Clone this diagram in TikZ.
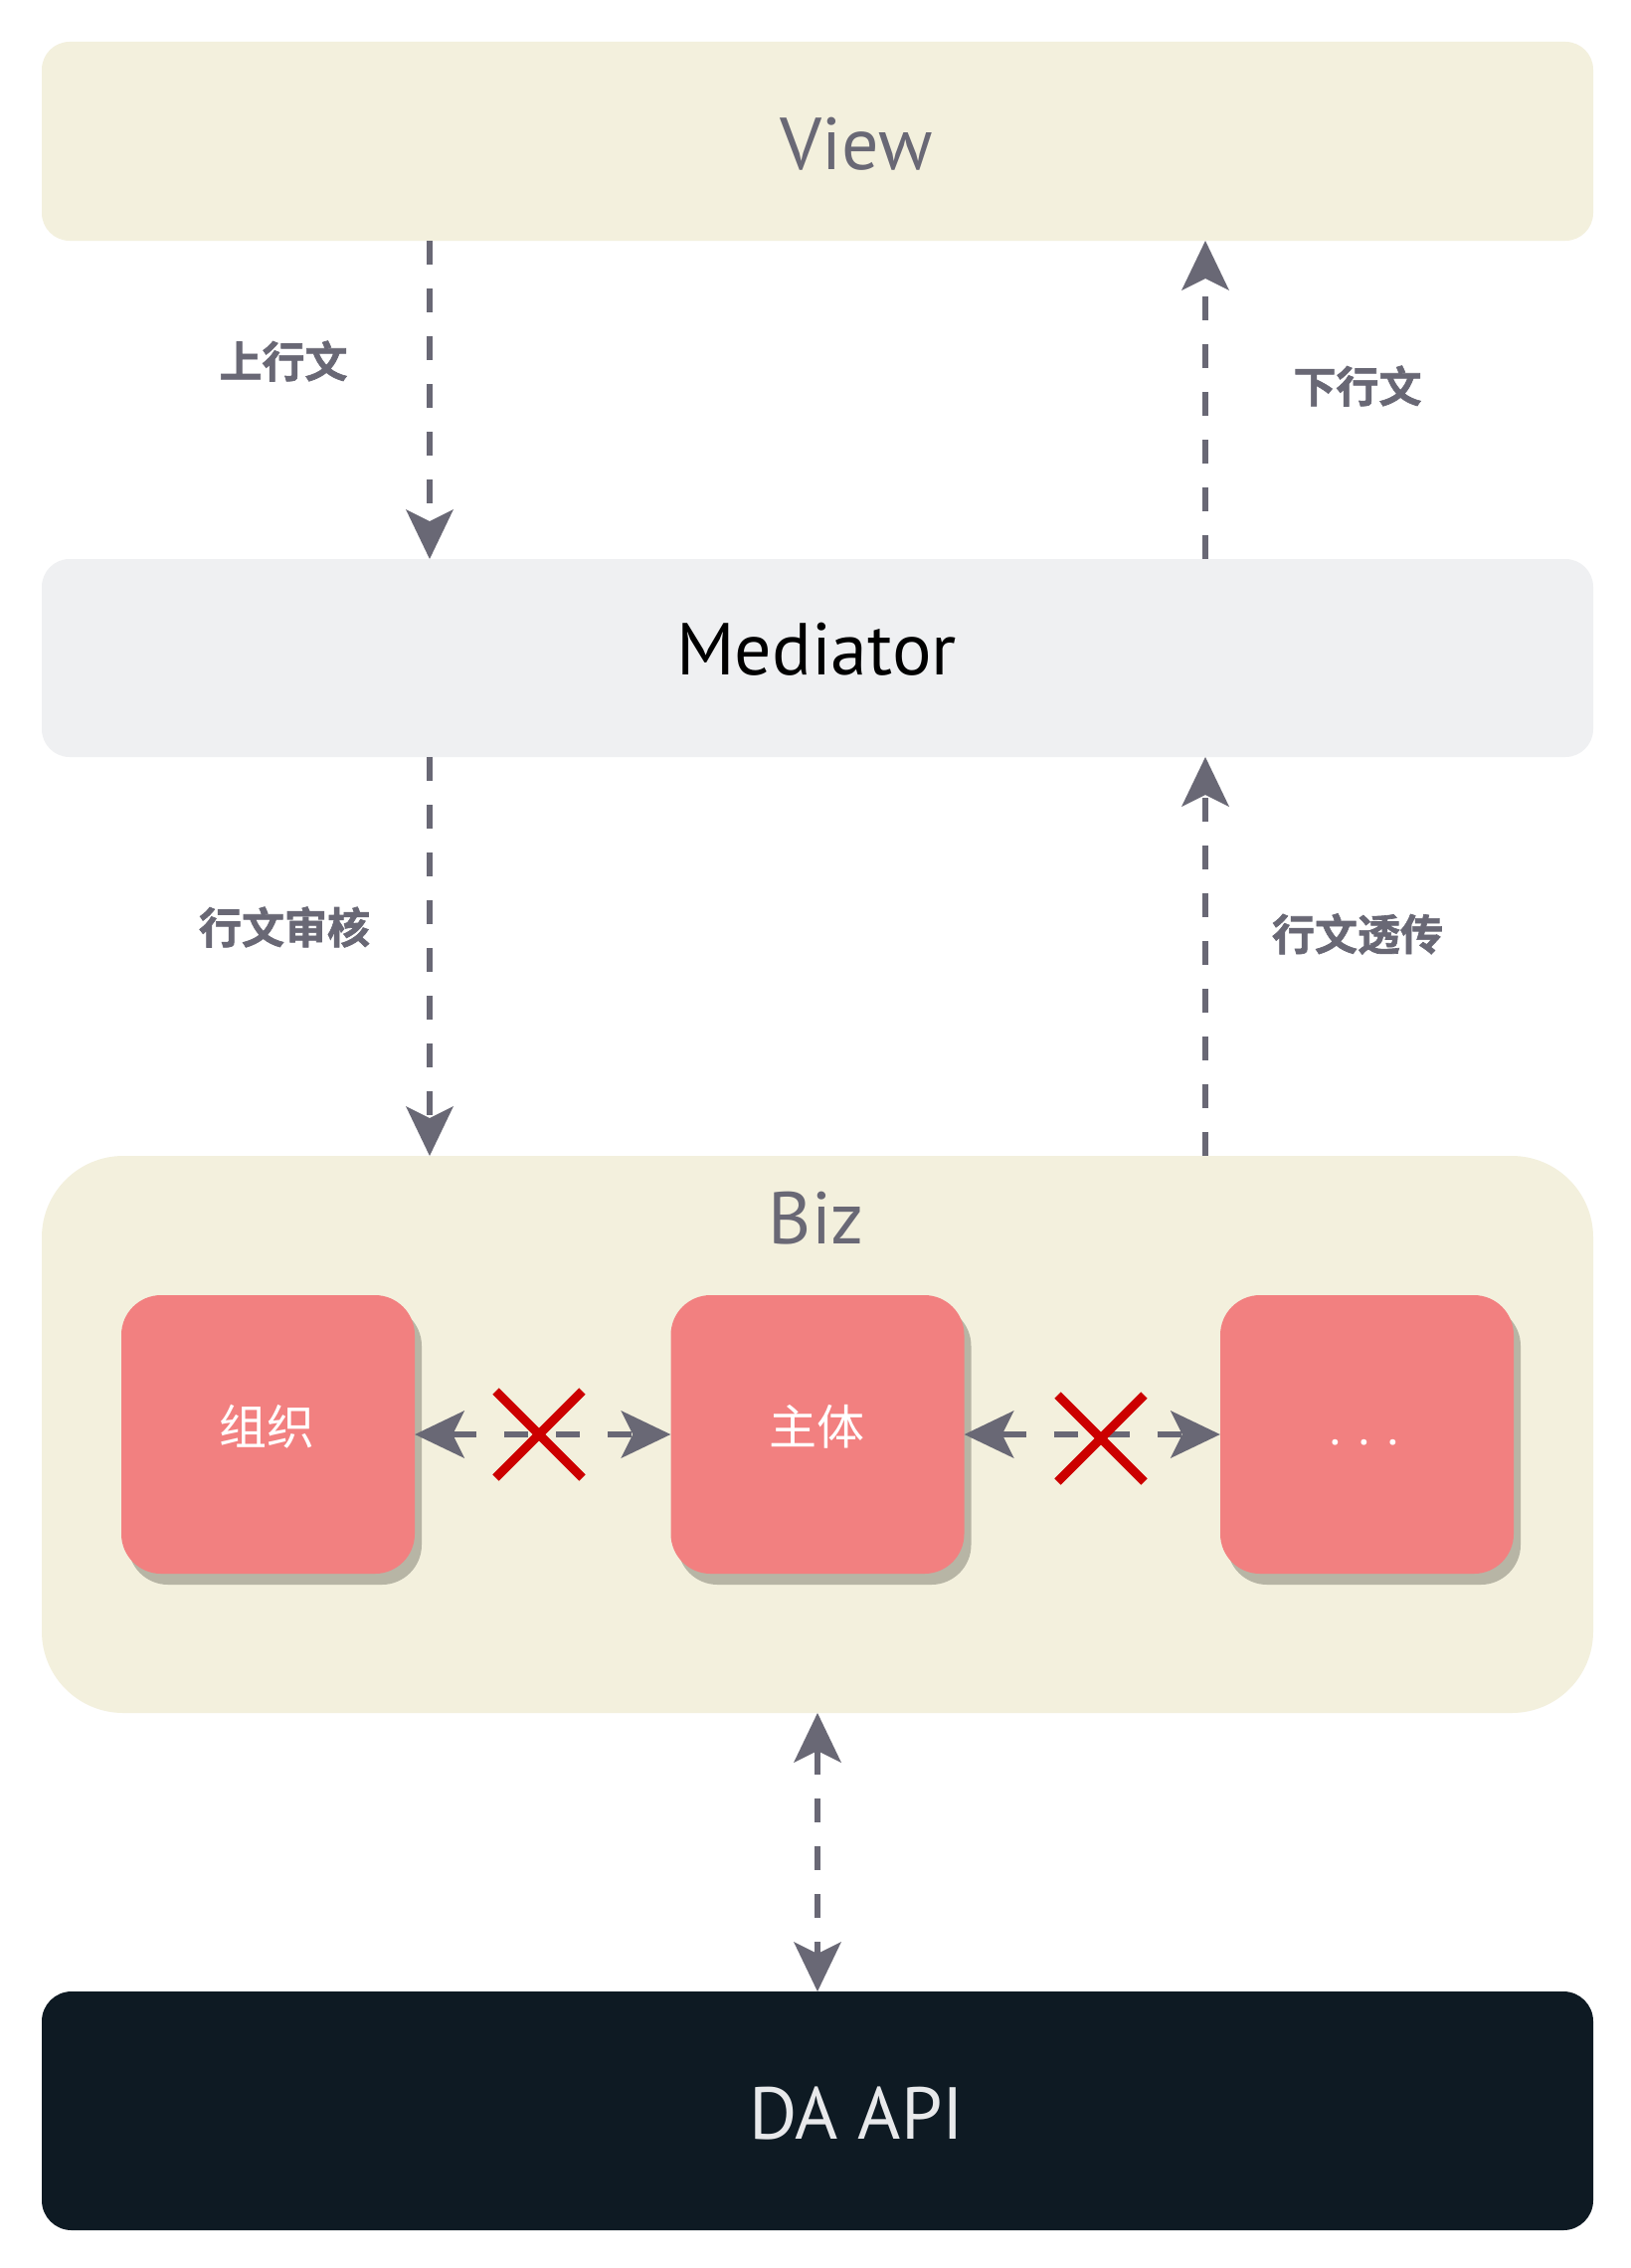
\documentclass[tikz,border=0pt]{standalone}
\usepackage{fontspec}
\setmainfont{PT Sans}
\newfontfamily\cjkr{Noto Sans CJK SC}
\newfontfamily\cjkbb[FakeBold=1.5]{Noto Sans CJK SC Bold}
\usetikzlibrary{arrows.meta,shadows,shapes.misc}
\definecolor{beige}{HTML}{F3F0DD}
\definecolor{medfill}{HTML}{EFF0F2}
\definecolor{pinkbox}{HTML}{F28080}
\definecolor{shadowc}{HTML}{B7B5A5}
\definecolor{arrowc}{HTML}{696875}
\definecolor{darkbox}{HTML}{0E1A23}
\definecolor{apitext}{HTML}{E8E9EB}
\definecolor{crossred}{HTML}{CC0000}
\tikzset{
  layer/.style={rectangle, rounded corners=28pt, minimum width=1560pt, inner sep=0pt},
  title/.style={anchor=base, inner sep=0pt, font=\fontsize{74}{80}\selectfont},
  item/.style={rectangle, rounded corners=40pt, fill=pinkbox, minimum width=295pt, minimum height=280pt, inner sep=0pt,
    drop shadow={shadow xshift=7pt, shadow yshift=-11pt, fill=shadowc, opacity=1}},
  itemtext/.style={text=white, inner sep=0pt, font=\cjkr\fontsize{48}{52}\selectfont},
  flow/.style={draw=arrowc, line width=6pt, dash pattern=on 24pt off 24pt,
    -{Stealth[length=50pt, width=48pt, inset=12pt, line width=0pt]}},
  biflow/.style={flow, {Stealth[length=50pt, width=48pt, inset=12pt, line width=0pt]}-{Stealth[length=50pt, width=48pt, inset=12pt, line width=0pt]}},
  hflow/.style={biflow, dash pattern=on 24pt off 28pt},
  lbl/.style={text=arrowc, font=\cjkbb\fontsize{43}{48}\selectfont, inner sep=0pt},
  nope/.style={cross out, draw=crossred, line width=9pt, minimum size=78pt, inner sep=0pt}
}
\begin{document}
\begin{tikzpicture}[x=1pt, y=-1pt]
\useasboundingbox (0,0) rectangle (1640,2280);
\fill[white] (0,0) rectangle (1640,2280);

% layers
\node[layer, fill=beige, minimum height=200pt] (view) at (822,142) {};
\node[title, text=arrowc] (viewt) at (861,170) {View};
\node[layer, fill=medfill, minimum height=199pt] (med) at (822,661.5) {};
\node[title, text=black] (medt) at (821,678) {Mediator};
\node[layer, fill=beige, rounded corners=82pt, minimum height=560pt] (biz) at (822,1442) {};
\node[title, text=arrowc] (bizt) at (821,1250) {Biz};
\node[layer, fill=darkbox, rounded corners=30pt, minimum height=240pt] (api) at (822,2122) {};
\node[title, text=apitext] (apit) at (861,2150) {DA API};

% inner items
\node[item] (org) at (269.5,1442) {};
\node[item] (subj) at (822,1442) {};
\node[item] (more) at (1374.5,1442) {};
\node[itemtext] (orgt) at (268,1434) {组织};
\node[itemtext] (subjt) at (821,1434) {主体};
\node[itemtext, font=\fontsize{50}{54}\selectfont] (moret) at (1372,1450) {.\hspace{18pt}.\hspace{18pt}.};

% vertical connectors
\coordinate (vl1) at (432,242);
\coordinate (vl2) at (432,562);
\coordinate (vr1) at (1212,562);
\coordinate (vr2) at (1212,242);
\coordinate (vl3) at (432,761);
\coordinate (vl4) at (432,1162);
\coordinate (vr3) at (1212,1162);
\coordinate (vr4) at (1212,761);
\coordinate (vm1) at (822,1722);
\coordinate (vm2) at (822,2002);
\draw[flow] (vl1) -- (vl2);
\draw[flow] (vr1) -- (vr2);
\draw[flow] (vl3) -- (vl4);
\draw[flow] (vr3) -- (vr4);
\draw[biflow] (vm1) -- (vm2);

% horizontal connectors
\draw[hflow] (org.east) -- (subj.west);
\draw[hflow] (subj.east) -- (more.west);

% crosses
\node[nope] (x1) at (542,1442) {};
\node[nope] (x2) at (1107,1446) {};

% labels
\node[lbl] (l1) at (285,363) {上行文};
\node[lbl] (l2) at (1365,388) {下行文};
\node[lbl] (l3) at (286,932) {行文审核};
\node[lbl] (l4) at (1365,939) {行文透传};
\end{tikzpicture}
\end{document}
